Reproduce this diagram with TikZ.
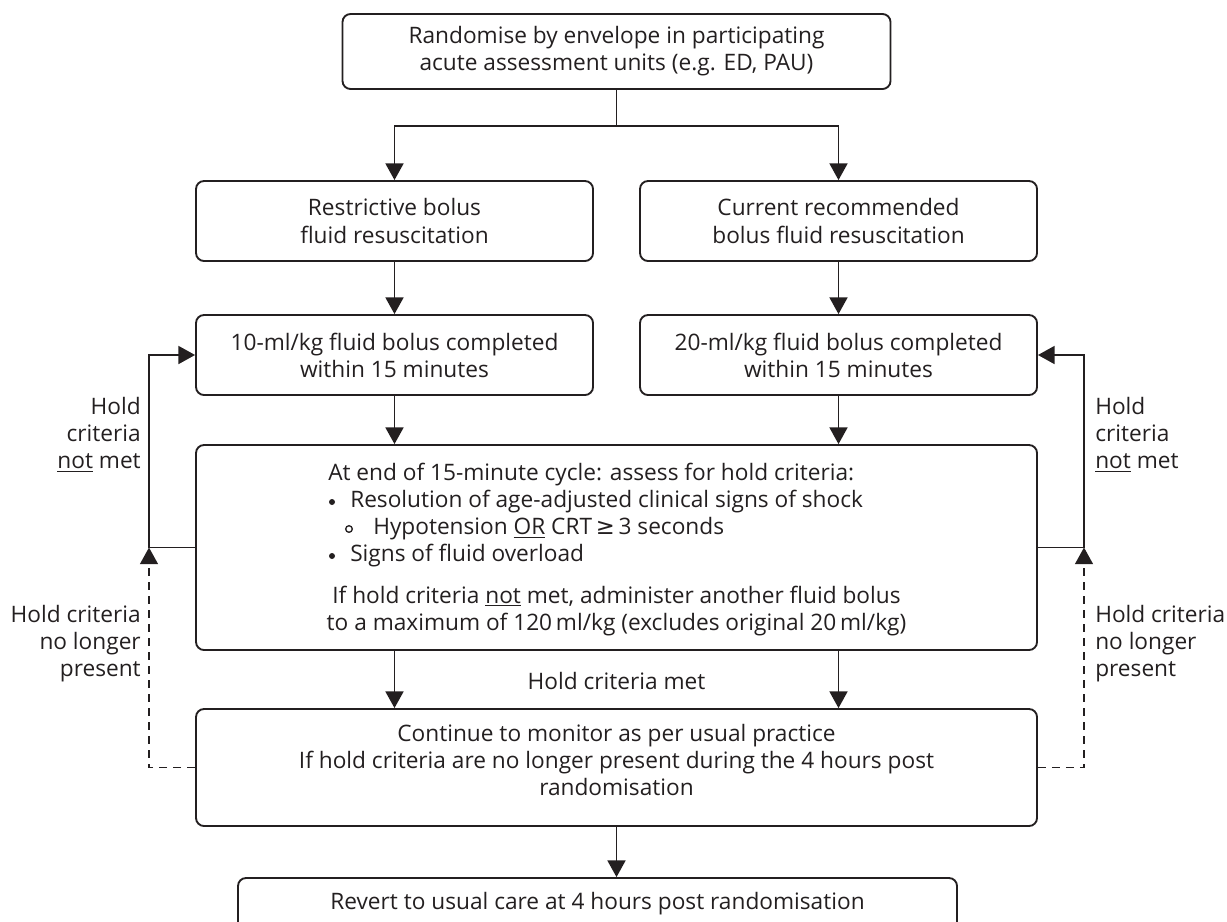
\documentclass[tikz,border=0pt]{standalone}
\usepackage{fontspec}
\setmainfont{Open Sans}
\newfontfamily\symfont{DejaVu Sans}
\usetikzlibrary{arrows.meta}
\definecolor{ink}{RGB}{35,31,32}
\begin{document}
\begin{tikzpicture}[x=0.75pt,y=-0.75pt,
  font=\fontsize{17}{20.3}\selectfont,
  box/.style={draw=ink, line width=1.4pt, rounded corners=6pt, inner sep=0pt, align=center, text=ink},
  txt/.style={inner sep=0pt, text=ink},
  arr/.style={draw=ink, line width=1.3pt, -{Triangle[width=13.5pt,length=12.5pt]}},
  ln/.style={draw=ink, line width=1.3pt},
  dsh/.style={draw=ink, line width=1pt, dash pattern=on 6pt off 4.5pt, -{Triangle[width=13.5pt,length=12.5pt]}}]
\useasboundingbox (0,0) rectangle (1227,921);

% boxes
\node[box, minimum width=548*0.75pt, minimum height=75*0.75pt] (top) at (616.5,51.5)
  {Randomise by envelope in participating\\acute assessment units (e.g. ED, PAU)};
\node[box, minimum width=397*0.75pt, minimum height=80*0.75pt] (restr) at (394.5,221)
  {Restrictive bolus\\fluid resuscitation};
\node[box, minimum width=397*0.75pt, minimum height=80*0.75pt] (curr) at (838.5,221)
  {Current recommended\\bolus fluid resuscitation};
\node[box, minimum width=397*0.75pt, minimum height=80*0.75pt] (ten) at (394.5,355)
  {10-ml/kg fluid bolus completed\\within 15 minutes};
\node[box, minimum width=397*0.75pt, minimum height=80*0.75pt] (twenty) at (838.5,355)
  {20-ml/kg fluid bolus completed\\within 15 minutes};
\node[box, minimum width=841*0.75pt, minimum height=205*0.75pt] (big) at (616.5,547.5) {};
\node[box, minimum width=841*0.75pt, minimum height=117*0.75pt] (mon) at (616.5,767.5) {};
\node[box, minimum width=719*0.75pt, minimum height=52*0.75pt] (rev) at (597.5,904)
  {Revert to usual care at 4 hours post randomisation};

% big box content
\node[txt, anchor=west] (b0) at (328,475) {At end of 15-minute cycle: assess for hold criteria:};
\fill[ink] (332,502) circle (3);
\node[txt, anchor=west] (b1) at (350,502) {Resolution of age-adjusted clinical signs of shock};
\draw[ink, line width=1pt] (349,529) circle (3.3);
\node[txt, anchor=west] (b2) at (373,529) {Hypotension \underline{OR} CRT\,{\symfont ≥}\,3 seconds};
\fill[ink] (332,556) circle (3);
\node[txt, anchor=west] (b3) at (350,556) {Signs of fluid overload};
\node[txt, align=center] (b4) at (616.5,611)
  {If hold criteria \underline{not} met, administer another fluid bolus\\to a maximum of 120\,ml/kg (excludes original 20\,ml/kg)};

% monitor box content
\node[txt, align=center] (montext) at (616.5,760)
  {Continue to monitor as per usual practice\\If hold criteria are no longer present during the 4 hours post\\randomisation};

% connectors
\coordinate (split) at (616.5,126);
\draw[ln] (top.south) -- (split);
\draw[arr] (split) -| (restr.north);
\draw[arr] (split) -| (curr.north);
\draw[arr] (restr.south) -- (ten.north);
\draw[arr] (curr.south) -- (twenty.north);
\draw[arr] (ten.south) -- (ten.south |- big.north);
\draw[arr] (twenty.south) -- (twenty.south |- big.north);
\draw[arr] (ten.south |- big.south) -- (ten.south |- mon.north);
\draw[arr] (twenty.south |- big.south) -- (twenty.south |- mon.north);
\draw[arr] (mon.south) -- (mon.south |- rev.north);

\node[txt] (met) at (616.5,681) {Hold criteria met};

% side loops
\coordinate (lc) at (149,547.5);
\coordinate (rc) at (1084,547.5);
\draw[arr] (big.west) -- (lc) |- (ten.west);
\draw[arr] (big.east) -- (rc) |- (twenty.east);
\draw[dsh] (mon.west) -| (lc);
\draw[dsh] (mon.east) -| (rc);

% side labels
\node[txt, anchor=east, align=right] (lnm) at (141,434.5) {Hold\\criteria\\\underline{not} met};
\node[txt, anchor=west, align=left] (rnm) at (1095,434.5) {Hold\\criteria\\\underline{not} met};
\node[txt, anchor=east, align=right] (lnl) at (141,643.5) {Hold criteria\\no longer\\present};
\node[txt, anchor=west, align=left] (rnl) at (1095,643.5) {Hold criteria\\no longer\\present};
\end{tikzpicture}
\end{document}
